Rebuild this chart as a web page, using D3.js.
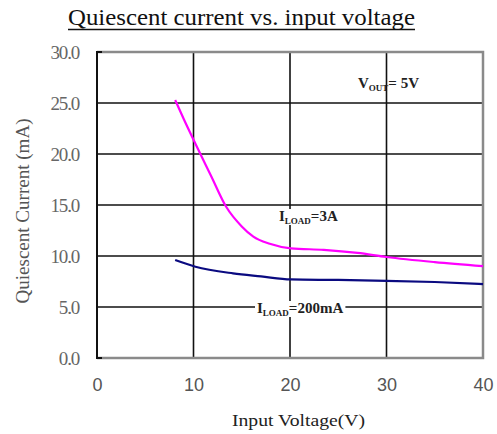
<!DOCTYPE html>
<html><head><meta charset="utf-8">
<script src="https://cdn.jsdelivr.net/npm/d3@7"></script>
<style>body{margin:0;background:#fff}svg{display:block}</style>
</head><body>
<svg id="c" width="497" height="434"></svg>
<script>
const xTicks = [0, 10, 20, 30, 40];
const yTicks = [0, 5, 10, 15, 20, 25, 30];
const load3A_V = [8.1, 9.0, 10.2, 11.8, 13.4, 15.0, 16.2, 17.9, 20.1, 23.5, 27.0, 30.0, 35.0, 40.0];
const load3A_I = [25.3, 23.4, 21.0, 17.9, 14.8, 12.9, 11.9, 11.2, 10.75, 10.6, 10.3, 9.9, 9.4, 9.0];
const load200_V = [8.1, 10.2, 14.1, 17.0, 20.1, 25.0, 30.0, 35.0, 40.0];
const load200_I = [9.6, 8.95, 8.3, 8.0, 7.7, 7.65, 7.57, 7.45, 7.25];

const svg = d3.select("#c");
const L = 97, R = 483, T = 52, B = 358;
const x = d3.scaleLinear().domain([0, 40]).range([L, R]);
const y = d3.scaleLinear().domain([0, 30]).range([B, T]);
const serif = "'Liberation Serif','Times New Roman',serif";
const sans = "'Liberation Sans',Arial,sans-serif";

// title
const title = svg.append("text").attr("x", 241.5).attr("y", 25).attr("text-anchor", "middle")
  .attr("font-family", serif).attr("font-size", 24).attr("fill", "#111")
  .attr("textLength", 347).attr("lengthAdjust", "spacingAndGlyphs")
  .text("Quiescent current vs. input voltage");
const tb = title.node().getBBox();
svg.append("line").attr("x1", tb.x).attr("x2", tb.x + tb.width).attr("y1", 29.5).attr("y2", 29.5)
  .attr("stroke", "#111").attr("stroke-width", 1.3);

// grid
const g = svg.append("g");
g.selectAll("line.v").data(xTicks.slice(1, -1)).join("line")
  .attr("x1", d => x(d)).attr("x2", d => x(d)).attr("y1", T).attr("y2", B)
  .attr("stroke", "#111").attr("stroke-width", 1.6);
g.selectAll("line.h").data(yTicks.slice(1, -1)).join("line")
  .attr("x1", L).attr("x2", R).attr("y1", d => y(d)).attr("y2", d => y(d))
  .attr("stroke", "#111").attr("stroke-width", 1.6);

// frame
svg.append("path").attr("d", `M${L},${T}H${R}V${B}H${L}`).attr("fill", "none")
  .attr("stroke", "#8a8a8a").attr("stroke-width", 2.5);
svg.append("path").attr("d", `M${L+5},${T}H${L}V${B}H${L+5}`).attr("fill", "none")
  .attr("stroke", "#111").attr("stroke-width", 2);

// axes labels
const yAxis = d3.axisLeft(y).tickValues(yTicks).tickFormat(d3.format(".1f")).tickSize(0).tickPadding(18);
const ya = svg.append("g").attr("transform", `translate(${L},0)`).call(yAxis);
ya.select(".domain").remove();
ya.selectAll("text").attr("font-family", serif).attr("font-size", 19).attr("fill", "#666")
  .attr("letter-spacing", -1.2);

const xAxis = d3.axisBottom(x).tickValues(xTicks).tickSize(0).tickPadding(20);
const xa = svg.append("g").attr("transform", `translate(0,${B})`).call(xAxis);
xa.select(".domain").remove();
xa.selectAll("text").attr("font-family", sans).attr("font-size", 18).attr("fill", "#555");

svg.append("text").attr("transform", "translate(29,211) rotate(-90)").attr("text-anchor", "middle")
  .attr("font-family", serif).attr("font-size", 18).attr("fill", "#555")
  .attr("textLength", 185).attr("lengthAdjust", "spacingAndGlyphs").text("Quiescent Current (mA)");
svg.append("text").attr("x", 298.5).attr("y", 426).attr("text-anchor", "middle")
  .attr("font-family", serif).attr("font-size", 17).attr("fill", "#222")
  .attr("textLength", 133).attr("lengthAdjust", "spacingAndGlyphs").text("Input Voltage(V)");

// curves
const line = d3.line().x(d => x(d[0])).y(d => y(d[1])).curve(d3.curveMonotoneX);
svg.append("path").datum(d3.zip(load3A_V, load3A_I)).attr("d", line)
  .attr("fill", "none").attr("stroke", "#ff00ff").attr("stroke-width", 2.2);
svg.append("path").datum(d3.zip(load200_V, load200_I)).attr("d", line)
  .attr("fill", "none").attr("stroke", "#0a0a80").attr("stroke-width", 2.2);

// annotations
function label(xp, yp, main, sub, rest, size, bg) {
  const t = svg.append("text").attr("x", xp).attr("y", yp).attr("font-family", serif)
    .attr("font-weight", "bold").attr("fill", "#222").attr("font-size", size);
  t.append("tspan").text(main);
  t.append("tspan").attr("font-size", size * 0.6).attr("dy", 3).text(sub);
  t.append("tspan").attr("dy", -3).text(rest);
  if (bg) {
    const b = t.node().getBBox();
    svg.insert("rect", function(){ return t.node(); }).attr("x", b.x - 2).attr("y", b.y + 1)
      .attr("width", b.width + 4).attr("height", b.height - 2).attr("fill", "#fff");
  }
}
label(358, 88, "V", "OUT", "= 5V", 15, false);
label(279, 221, "I", "LOAD", "=3A", 15, true);
label(257, 313, "I", "LOAD", "=200mA", 15, true);
</script>
</body></html>
